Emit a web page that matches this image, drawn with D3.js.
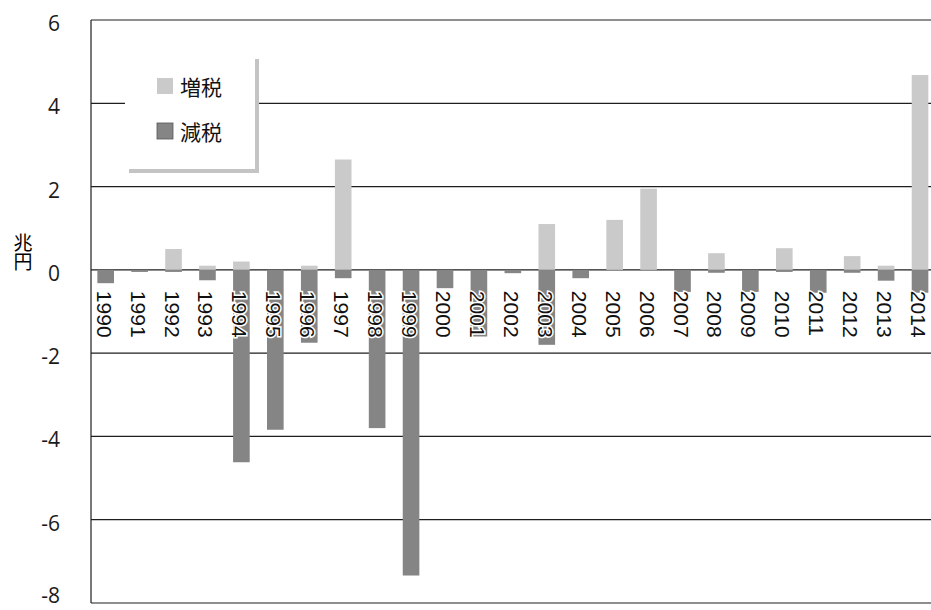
<!DOCTYPE html>
<html>
<head>
<meta charset="utf-8">
<script src="https://cdn.jsdelivr.net/npm/d3@7"></script>
<style>
  body { margin: 0; background: #fff; }
  text { font-family: "Open Sans", "Noto Sans CJK JP", sans-serif; }
</style>
</head>
<body>
<script>
// fiscal years
let years = ["1990","1991","1992","1993","1994","1995","1996","1997","1998","1999",
             "2000","2001","2002","2003","2004","2005","2006","2007","2008","2009",
             "2010","2011","2012","2013","2014"];
// 増税 (tax increase), trillion yen
let increase = [0, 0, 0.5, 0.1, 0.2, 0, 0.1, 2.65, 0, 0,
                0, 0, 0, 1.1, 0, 1.2, 1.95, 0, 0.4, 0,
                0.52, 0, 0.33, 0.1, 4.68];
// 減税 (tax cut), trillion yen
let decrease = [-0.32, -0.05, -0.05, -0.25, -4.62, -3.84, -1.75, -0.2, -3.8, -7.34,
                -0.44, -1.6, -0.08, -1.8, -0.2, 0, 0, -0.53, -0.07, -0.53,
                -0.05, -0.55, -0.07, -0.26, -0.55];
let y_ticks = [6, 4, 2, 0, -2, -4, -6, -8];
let series_names = ["増税", "減税"];

let width = 931;
let height = 610;
let padding = {
    top: 20,
    bottom: 7,
    left: 91
}

let svg = d3.select("body").append("svg")
    .attr("width", width)
    .attr("height", height);

let x = d3.scaleBand()
    .domain(years)
    .range([88.7, 937])
    .paddingInner(0.51)
    .paddingOuter(0.255);

let y = d3.scaleLinear()
    .domain([-8, 6])
    .range([height - padding.bottom, padding.top]);

// horizontal gridlines
svg.append("g")
    .selectAll("line")
    .data(y_ticks)
    .join("line")
    .attr("x1", padding.left)
    .attr("x2", width)
    .attr("y1", d => y(d))
    .attr("y2", d => y(d))
    .attr("stroke", "#1e1e1e")
    .attr("stroke-width", 1.2);

// left frame line
svg.append("line")
    .attr("x1", padding.left)
    .attr("x2", padding.left)
    .attr("y1", y(6))
    .attr("y2", y(-8))
    .attr("stroke", "#1e1e1e")
    .attr("stroke-width", 1.2);

// y tick labels (bottom one kept inside the picture)
svg.append("g")
    .selectAll("text")
    .data(y_ticks)
    .join("text")
    .attr("x", 60)
    .attr("y", d => Math.min(y(d) + 3, 595))
    .attr("text-anchor", "end")
    .attr("dominant-baseline", "central")
    .style("font-size", "21px")
    .style("fill", "#1a1a1a")
    .text(d => d);

// y axis unit, written vertically
svg.append("text")
    .attr("x", 23)
    .attr("y", 233)
    .attr("text-anchor", "start")
    .style("writing-mode", "vertical-rl")
    .style("font-size", "19px")
    .style("font-family", "Noto Sans CJK JP")
    .text("兆円");

// tax increase bars
svg.append("g")
    .selectAll("rect")
    .data(years)
    .join("rect")
    .attr("x", d => x(d))
    .attr("width", x.bandwidth())
    .attr("y", (d, i) => y(increase[i]))
    .attr("height", (d, i) => y(0) - y(increase[i]))
    .attr("fill", "#cacaca");

// tax cut bars
svg.append("g")
    .selectAll("rect")
    .data(years)
    .join("rect")
    .attr("x", d => x(d))
    .attr("width", x.bandwidth())
    .attr("y", y(0))
    .attr("height", (d, i) => y(decrease[i]) - y(0))
    .attr("fill", "#858585");

// year labels, rotated, just under the zero line
svg.append("g")
    .selectAll("text")
    .data(years)
    .join("text")
    .attr("transform", d => "translate(" + (x(d) + x.bandwidth() / 2 - 1.5) + "," + (y(0) + 21) + ") rotate(90)")
    .attr("dominant-baseline", "central")
    .attr("text-anchor", "start")
    .style("font-family", "Liberation Sans")
    .style("font-size", "21px")
    .style("fill", "#111")
    .style("stroke", "#fff")
    .style("stroke-width", 3)
    .style("paint-order", "stroke")
    .text(d => d);

// legend box with a soft shadow
let legend = svg.append("g");
legend.append("rect")
    .attr("x", 129)
    .attr("y", 59)
    .attr("width", 130)
    .attr("height", 114)
    .attr("fill", "#c4c4c4");
legend.append("rect")
    .attr("x", 125)
    .attr("y", 55)
    .attr("width", 130)
    .attr("height", 114)
    .attr("fill", "#fff");

let legend_colors = ["#cacaca", "#858585"];
series_names.forEach((name, i) => {
    legend.append("rect")
        .attr("x", 157)
        .attr("y", 78 + i * 45)
        .attr("width", 16)
        .attr("height", 16)
        .attr("fill", legend_colors[i])
        .attr("stroke", i == 1 ? "#555" : "none")
        .attr("stroke-width", 0.8);
    legend.append("text")
        .attr("x", 180)
        .attr("y", 86 + i * 45)
        .attr("dominant-baseline", "central")
        .style("font-size", "21px")
        .style("font-family", "Noto Sans CJK JP")
        .style("fill", "#111")
        .text(name);
})
</script>
</body>
</html>
